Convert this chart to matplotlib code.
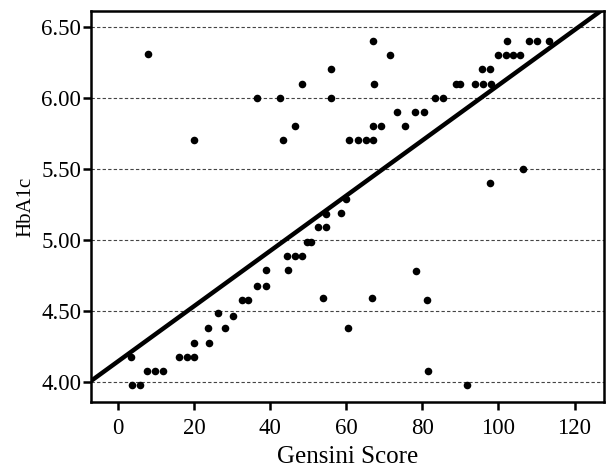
import matplotlib.pyplot as plt

plt.rcParams['font.family'] = ['Liberation Serif', 'DejaVu Serif']

# Gensini score vs HbA1c
gensini = [8, 36.5, 20, 42.5, 43.5, 46.5, 48.5, 56, 56, 67, 71.4, 67.3,
           67.1, 69.1, 60.8, 63.1, 65.2, 67.0, 73.3, 75.5, 78.2, 80.4,
           83.3, 85.5, 88.8, 90.0, 93.9, 96.0, 98.0, 95.6, 97.8,
           100.0, 101.9, 103.9, 105.7, 102.3, 108.0, 110.1, 113.3, 106.5, 97.8,
           3.5, 3.7, 5.7, 7.6, 9.7, 11.8, 16.1, 18.1, 20.0, 20.1, 23.9, 23.8,
           26.4, 28.1, 30.2, 32.6, 34.3, 36.6, 38.8, 39.0,
           44.7, 44.5, 46.5, 48.4, 49.6, 50.7, 52.5, 54.8, 54.6, 58.6, 59.9,
           53.8, 66.9, 78.4, 81.3, 60.6, 81.4, 91.7]
hba1c = [6.31, 6.00, 5.70, 6.00, 5.70, 5.80, 6.10, 6.20, 6.00, 6.40, 6.30, 6.10,
         5.80, 5.80, 5.70, 5.70, 5.70, 5.70, 5.90, 5.80, 5.90, 5.90,
         6.00, 6.00, 6.10, 6.10, 6.10, 6.10, 6.10, 6.20, 6.20,
         6.30, 6.30, 6.30, 6.30, 6.40, 6.40, 6.40, 6.40, 5.50, 5.40,
         4.18, 3.98, 3.98, 4.08, 4.08, 4.08, 4.18, 4.18, 4.18, 4.28, 4.28, 4.38,
         4.49, 4.38, 4.47, 4.58, 4.58, 4.68, 4.68, 4.79,
         4.79, 4.89, 4.89, 4.89, 4.99, 4.99, 5.09, 5.09, 5.18, 5.19, 5.29,
         4.59, 4.59, 4.78, 4.58, 4.38, 4.08, 3.98]

# fitted line
intercept = 4.148
slope = 0.0194
x_range = [-7.5, 128]

yticks = [4.00, 4.50, 5.00, 5.50, 6.00, 6.50]
xticks = [0, 20, 40, 60, 80, 100, 120]

fig = plt.figure(figsize=(6.06, 4.74), dpi=100)
ax = fig.add_axes([0.150, 0.151, 0.847, 0.826])

for yt in yticks:
    ax.axhline(yt, color='#444444', lw=0.8, ls=(0, (3, 2)), zorder=1)

ax.scatter(gensini, hba1c, s=30, color='black', zorder=3, linewidths=0)
ax.plot(x_range, [intercept + slope * x for x in x_range],
        color='black', lw=3.2, zorder=4, solid_capstyle='butt')

ax.set_xlim(-7.1, 127.8)
ax.set_ylim(3.86, 6.61)
ax.set_xticks(xticks)
ax.set_yticks(yticks)
ax.set_yticklabels([f"{v:.2f}" for v in yticks])
ax.tick_params(axis='both', labelsize=16.5, width=1.8, length=6, direction='out')
ax.tick_params(axis='y', pad=1)
ax.tick_params(axis='x', pad=5)
ax.set_xlabel("Gensini Score", fontsize=18, labelpad=5)
ax.set_ylabel("HbA1c", fontsize=15, labelpad=4)
for sp in ax.spines.values():
    sp.set_linewidth(1.8)

fig.savefig("out.png", dpi=100)
